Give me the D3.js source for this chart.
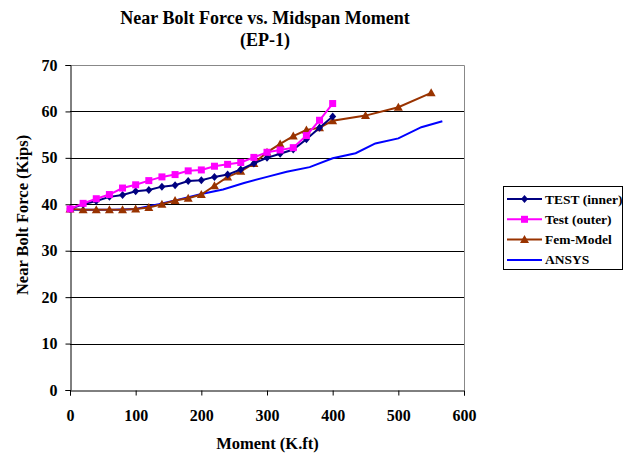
<!DOCTYPE html>
<html lang="en">
<head>
  <meta charset="UTF-8" />
  <title>Near Bolt Force vs. Midspan Moment</title>
  <script src="https://d3js.org/d3.v7.min.js"></script>
  <style>
    body { margin: 0; background: #fff; }
    svg { display: block; }
    svg text { font-family: "Liberation Serif", "DejaVu Serif", serif; font-weight: bold; fill: #000; }
  </style>
</head>
<body>
<svg width="629" height="456"></svg>
<script>
  // moment (K.ft) for the two test series, every 20
  const testX = [0, 20, 40, 60, 80, 100, 120, 140, 160, 180, 200, 220, 240, 260, 280, 300, 320, 340, 360, 380, 400];
  const innerY = [39.0, 40.0, 40.7, 41.6, 42.0, 42.8, 43.1, 43.8, 44.1, 45.0, 45.2, 45.9, 46.4, 47.5, 48.8, 50.0, 50.9, 51.8, 54.0, 56.5, 58.9];
  const outerY = [39.0, 40.2, 41.2, 42.1, 43.5, 44.2, 45.1, 45.9, 46.4, 47.2, 47.4, 48.2, 48.6, 49.0, 50.1, 51.2, 51.7, 52.2, 54.8, 58.1, 61.7];
  const femX = [0, 20, 40, 60, 80, 100, 120, 140, 160, 180, 200, 220, 240, 260, 280, 300, 320, 340, 360, 380, 400, 450, 500, 550];
  const femY = [39.0, 38.8, 38.8, 38.8, 38.8, 39.0, 39.3, 40.0, 40.8, 41.3, 42.1, 44.0, 45.9, 47.1, 48.8, 51.2, 53.0, 54.7, 56.0, 56.5, 58.0, 59.1, 60.9, 64.0];
  const ansysX = [0, 33, 67, 100, 135, 165, 200, 233, 265, 300, 330, 365, 400, 435, 465, 500, 535, 567];
  const ansysY = [38.8, 38.8, 38.8, 39.0, 40.0, 41.0, 42.2, 43.2, 44.6, 45.9, 47.0, 48.0, 49.9, 51.0, 53.1, 54.2, 56.6, 57.9];

  const seriesNames = ["TEST (inner)", "Test (outer)", "Fem-Model", "ANSYS"];
  const xTicks = [0, 100, 200, 300, 400, 500, 600];
  const yTicks = [0, 10, 20, 30, 40, 50, 60, 70];

  const series = [
    { name: seriesNames[0], xs: testX, ys: innerY, color: "#000080", marker: "diamond", order: 2 },
    { name: seriesNames[1], xs: testX, ys: outerY, color: "#ff00ff", marker: "square", order: 3 },
    { name: seriesNames[2], xs: femX, ys: femY, color: "#993300", marker: "triangle", order: 1 },
    { name: seriesNames[3], xs: ansysX, ys: ansysY, color: "#0000ff", marker: null, order: 0 }
  ];

  const svg = d3.select("svg");
  const pLeft = 70, pRight = 464, pTop = 65, pBottom = 390;

  const x = d3.scaleLinear().domain([0, 600]).range([pLeft, pRight]);
  const y = d3.scaleLinear().domain([0, 70]).range([pBottom, pTop]);

  // plot frame (top/right) and gridlines
  svg.append("path")
    .attr("d", `M${pLeft},${pTop + 0.5}H${pRight + 0.5}V${pBottom}`)
    .attr("fill", "none").attr("stroke", "#888").attr("stroke-width", 1);

  svg.append("g")
    .selectAll("line")
    .data(yTicks.filter(d => d > 0 && d < 70))
    .join("line")
    .attr("x1", pLeft).attr("x2", pRight)
    .attr("y1", d => Math.round(y(d)) + 0.5).attr("y2", d => Math.round(y(d)) + 0.5)
    .attr("stroke", "#000").attr("stroke-width", 1);

  const yAxis = svg.append("g")
    .attr("transform", `translate(${pLeft + 0.5},0)`)
    .call(d3.axisLeft(y).tickValues(yTicks).tickSize(5).tickPadding(8).tickFormat(d3.format("d")));
  const xAxis = svg.append("g")
    .attr("transform", `translate(0,${pBottom + 0.5})`)
    .call(d3.axisBottom(x).tickValues(xTicks).tickSize(5).tickPadding(14).tickFormat(d3.format("d")));

  [yAxis, xAxis].forEach(g => {
    g.attr("font-family", null).attr("font-size", null);
    g.selectAll(".domain, line").attr("stroke", "#000");
    g.selectAll("text").style("font-size", "16px");
  });

  const line = d3.line().x(d => x(d[0])).y(d => y(d[1]));

  function drawMarker(g, kind, color, cx, cy) {
    if (kind === "diamond") {
      g.append("path").attr("d", `M${cx},${cy - 4}L${cx + 3.5},${cy}L${cx},${cy + 4}L${cx - 3.5},${cy}Z`).attr("fill", color);
    } else if (kind === "square") {
      g.append("rect").attr("x", cx - 3.5).attr("y", cy - 3.5).attr("width", 7).attr("height", 7).attr("fill", color);
    } else if (kind === "triangle") {
      g.append("path").attr("d", `M${cx},${cy - 4.5}L${cx + 4.5},${cy + 3.5}L${cx - 4.5},${cy + 3.5}Z`).attr("fill", color);
    }
  }

  series.slice().sort((a, b) => a.order - b.order).forEach(s => {
    const pts = s.xs.map((v, i) => [v, s.ys[i]]);
    const g = svg.append("g");
    g.append("path").datum(pts)
      .attr("d", line)
      .attr("fill", "none")
      .attr("stroke", s.color)
      .attr("stroke-width", 2);
    if (s.marker) pts.forEach(p => drawMarker(g, s.marker, s.color, x(p[0]), y(p[1])));
  });

  // titles
  svg.append("text").attr("x", 265).attr("y", 24).attr("text-anchor", "middle")
    .style("font-size", "18px").text("Near Bolt Force vs. Midspan Moment");
  svg.append("text").attr("x", 265).attr("y", 46).attr("text-anchor", "middle")
    .style("font-size", "18px").text("(EP-1)");
  svg.append("text").attr("x", 267.5).attr("y", 449).attr("text-anchor", "middle")
    .style("font-size", "16.5px").text("Moment (K.ft)");
  svg.append("text").attr("transform", "translate(28,215) rotate(-90)").attr("text-anchor", "middle")
    .style("font-size", "16.5px").text("Near Bolt Force (Kips)");

  // legend
  const legend = svg.append("g");
  legend.append("rect").attr("x", 503.5).attr("y", 186.5).attr("width", 119).attr("height", 83)
    .attr("fill", "#fff").attr("stroke", "#000");
  series.forEach((s, i) => {
    const ly = 199 + i * 20.3;
    legend.append("line").attr("x1", 507).attr("x2", 542).attr("y1", ly).attr("y2", ly)
      .attr("stroke", s.color).attr("stroke-width", 2);
    if (s.marker) drawMarker(legend, s.marker, s.color, 524.5, ly);
    legend.append("text").attr("x", 545).attr("y", ly + 4.5)
      .style("font-size", "13.5px").text(s.name);
  });
</script>
</body>
</html>
